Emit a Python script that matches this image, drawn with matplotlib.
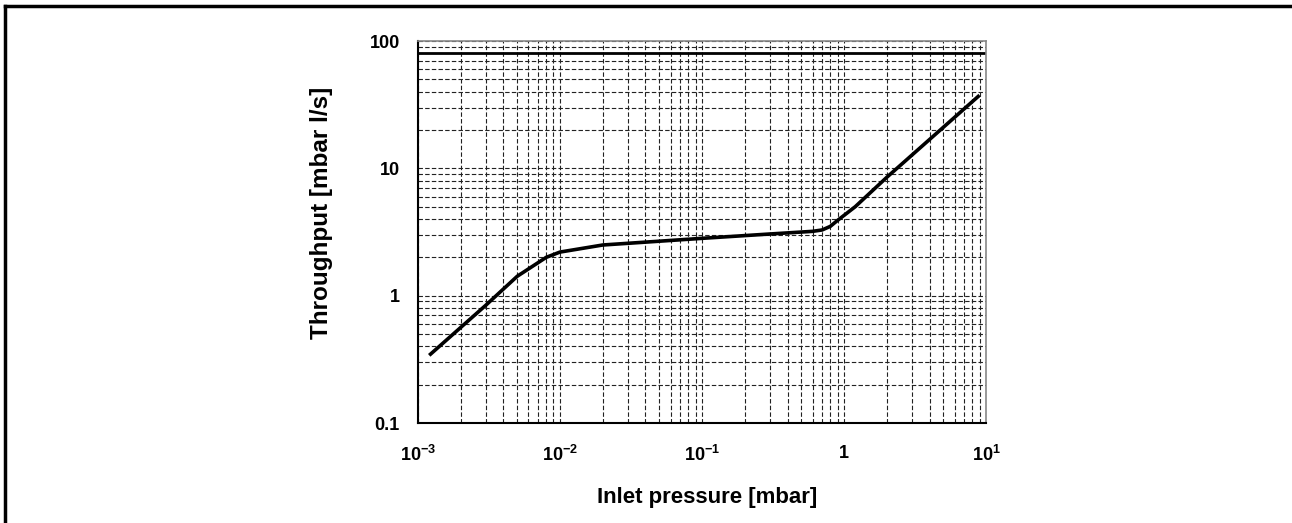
import matplotlib
matplotlib.use("Agg")
import matplotlib.pyplot as plt
from matplotlib.lines import Line2D
from matplotlib.ticker import FixedLocator, FixedFormatter, LogLocator, NullFormatter

plt.rcParams["font.family"] = ["Liberation Sans", "DejaVu Sans"]
plt.rcParams["mathtext.fontset"] = "custom"
plt.rcParams["mathtext.rm"] = "Liberation Sans:bold"
plt.rcParams["mathtext.bf"] = "Liberation Sans:bold"
plt.rcParams["axes.unicode_minus"] = False

# curve
pressure = [1.2e-3, 3e-3, 5e-3, 8e-3, 1e-2, 2e-2, 0.1, 0.3, 0.6, 0.7, 0.8, 0.9, 1.2, 2.0, 9.0]
throughput = [0.34, 0.84, 1.42, 2.0, 2.2, 2.5, 2.82, 3.05, 3.2, 3.28, 3.5, 3.9, 5.0, 8.5, 37.5]
limit_line = 80

x_ticks = [1e-3, 1e-2, 1e-1, 1, 10]
x_labels = [r"$10^{-3}$", r"$10^{-2}$", r"$10^{-1}$", "1", r"$10^{1}$"]
y_ticks = [0.1, 1, 10, 100]
y_labels = ["0.1", "1", "10", "100"]

fig = plt.figure(figsize=(12.92, 5.23), dpi=100)
ax = fig.add_axes([0.3235, 0.1912, 0.4397, 0.7304])

ax.plot(pressure, throughput, color="black", lw=2.6, solid_capstyle="butt")
ax.axhline(limit_line, color="black", lw=2)

ax.set_xscale("log")
ax.set_yscale("log")
ax.set_xlim(1e-3, 10)
ax.set_ylim(0.1, 100)

ax.xaxis.set_major_locator(FixedLocator(x_ticks))
ax.xaxis.set_major_formatter(FixedFormatter(x_labels))
ax.yaxis.set_major_locator(FixedLocator(y_ticks))
ax.yaxis.set_major_formatter(FixedFormatter(y_labels))
for axis in (ax.xaxis, ax.yaxis):
    axis.set_minor_locator(LogLocator(base=10, subs=range(2, 10)))
    axis.set_minor_formatter(NullFormatter())

ax.grid(True, which="both", color="#222222", ls=(0, (4, 2)), lw=0.8)
ax.tick_params(which="both", length=0)
ax.tick_params(axis="y", pad=13, labelsize=13)
ax.tick_params(axis="x", pad=16, labelsize=13)
for lab in ax.get_xticklabels() + ax.get_yticklabels():
    lab.set_fontweight("bold")

ax.spines["left"].set_linewidth(1.5)
ax.spines["bottom"].set_linewidth(1.5)
for side in ("top", "right"):
    ax.spines[side].set_color("#888888")
    ax.spines[side].set_linewidth(1.2)

ax.set_xlabel("Inlet pressure [mbar]", fontsize=16, fontweight="bold")
ax.set_ylabel("Throughput [mbar l/s]", fontsize=17.5, fontweight="bold")
ax.xaxis.set_label_coords(0.509, -0.168)
ax.yaxis.set_label_coords(-0.15, 0.55)

# frame around the figure (only left and top are inside the crop)
fig.add_artist(Line2D([5 / 1292, 5 / 1292], [0, 1 - 6 / 523], color="black", lw=2.5,
                      transform=fig.transFigure, solid_capstyle="projecting"))
fig.add_artist(Line2D([5 / 1292, 1], [1 - 6 / 523, 1 - 6 / 523], color="black", lw=2.5,
                      transform=fig.transFigure, solid_capstyle="projecting"))

fig.savefig("out.png", dpi=100, facecolor="white")
